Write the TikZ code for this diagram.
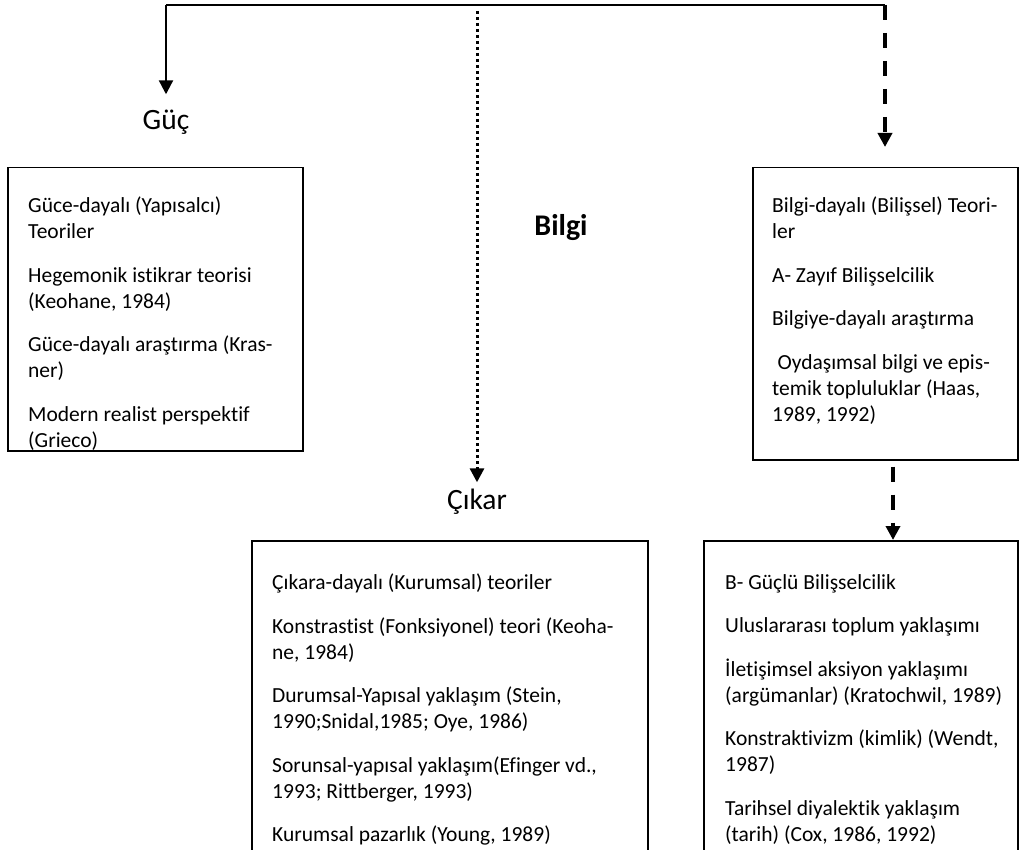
\documentclass[tikz,border=0pt]{standalone}
\usepackage{fontspec}
\setmainfont[Ligatures=NoCommon]{Carlito}
\usetikzlibrary{arrows.meta,calc}

\tikzset{
  frame/.style={draw, line width=1.5pt, inner sep=0pt, anchor=north west},
  boxtext/.style={align=left, anchor=north west, inner sep=0pt, font=\fontsize{21.5}{26}\selectfont},
  heading/.style={anchor=base, inner sep=2pt, font=\fontsize{29.5}{34}\selectfont},
  tip/.style={-{Triangle[width=14pt,length=14pt]}},
  solidlink/.style={line width=2.3pt},
  dashlink/.style={line width=3.5pt, dash pattern=on 15pt off 13pt},
  dotlink/.style={line width=3pt, dash pattern=on 3pt off 3pt},
}

\begin{document}
\begin{tikzpicture}[x=1pt,y=-1pt]
\clip (0,0) rectangle (1026,850);

% headings
\node[heading] (guc) at (166,130) {Güç};
\node[heading] (cikar) at (477,509) {Çıkar};
\node[heading, font=\fontsize{30}{34}\selectfont\bfseries] (bilgi) at (561,236) {Bilgi};

% boxes
\node[frame, minimum width=295pt, minimum height=283pt] (gucbox) at (7,167) {};
\node[frame, minimum width=265pt, minimum height=292pt] (bilgibox) at (752,167) {};
\node[frame, minimum width=396pt, minimum height=340pt] (cikarbox) at (251,540) {};
\node[frame, minimum width=314pt, minimum height=340pt] (guclubox) at (703,540) {};

% box texts
\node[boxtext] (gucText) at ($(gucbox.north west)+(21,30)$)
  {Güce-dayalı (Yapısalcı)\\ Teoriler\\[17.5pt]
   Hegemonik istikrar teorisi\\ (Keohane, 1984)\\[17.5pt]
   Güce-dayalı araştırma (Kras-\\ ner)\\[17.5pt]
   Modern realist perspektif\\ (Grieco)};
\node[boxtext] (bilgiText) at ($(bilgibox.north west)+(20,30)$)
  {Bilgi-dayalı (Bilişsel) Teori-\\ ler\\[17.5pt]
   A- Zayıf Bilişselcilik\\[17.5pt]
   Bilgiye-dayalı araştırma\\[17.5pt]
   \hspace{0.25em}Oydaşımsal bilgi ve epis-\\ temik topluluklar (Haas,\\ 1989, 1992)};
\node[boxtext] (cikarText) at ($(cikarbox.north west)+(21,34)$)
  {Çıkara-dayalı (Kurumsal) teoriler\\[17.5pt]
   Konstrastist (Fonksiyonel) teori (Keoha-\\ ne, 1984)\\[17.5pt]
   Durumsal-Yapısal yaklaşım (Stein,\\ 1990;Snidal,1985; Oye, 1986)\\[17.5pt]
   Sorunsal-yapısal yaklaşım(Efinger vd.,\\ 1993; Rittberger, 1993)\\[17.5pt]
   Kurumsal pazarlık (Young, 1989)};
\node[boxtext] (gucluText) at ($(guclubox.north west)+(22,34)$)
  {B- Güçlü Bilişselcilik\\[17.5pt]
   Uluslararası toplum yaklaşımı\\[17.5pt]
   İletişimsel aksiyon yaklaşımı\\ (argümanlar) (Kratochwil, 1989)\\[17.5pt]
   Konstraktivizm (kimlik) (Wendt,\\ 1987)\\[17.5pt]
   Tarihsel diyalektik yaklaşım\\ (tarih) (Cox, 1986, 1992)};

% connectors
\coordinate (topL) at (166,5);
\coordinate (topM) at (477,5);
\coordinate (topR) at (885,5);
\coordinate (link) at (893,0);
\draw[solidlink] (topL) -- (topR);
\draw[solidlink, tip] (topL) -- (guc.north) [shorten >=14pt];
\draw[dotlink, tip, shorten <=6pt, shorten >=4pt] (topM) -- (cikar.north);
\draw[dashlink, tip, shorten >=20pt] (topR) -- (topR |- bilgibox.north);
\draw[dashlink, tip, shorten <=6pt] (bilgibox.south -| link) -- (guclubox.north -| link);
\end{tikzpicture}
\end{document}
